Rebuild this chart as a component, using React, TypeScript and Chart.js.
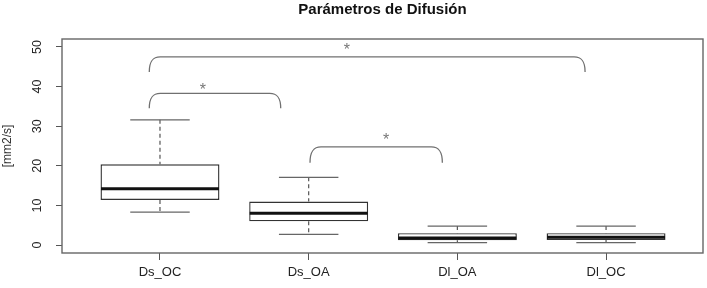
import React, { useEffect, useRef } from "react";
import { Chart, registerables } from "chart.js";

Chart.register(...registerables);

// ---- data ----
const categories = ["Ds_OC", "Ds_OA", "Dl_OA", "Dl_OC"];
const positions = [1, 2, 3, 4];
const whiskerLow = [8.3, 2.7, 0.6, 0.6];
const q1 = [11.4, 6.0, 1.2, 1.3];
const median = [14.2, 8.0, 1.8, 2.0];
const q3 = [20.4, 11.0, 3.0, 3.0];
const whiskerHigh = [31.6, 17.1, 4.8, 4.8];
const yTicks = [0, 10, 20, 30, 40, 50];

// significance brackets (x in category units, y in data units)
const bracketFrom = [0.928, 0.928, 2.009];
const bracketTo = [1.812, 3.859, 2.899];
const bracketTop = [38.3, 47.5, 24.8];
const bracketEnd = [34.5, 43.7, 20.8];
const starX = [1.289, 2.256, 2.52];
const starY = [40.0, 50.2, 27.5];
const starLabel = ["*", "*", "*"];

const FONT = "'Liberation Sans', Arial, Helvetica, sans-serif";

const extrasPlugin = {
  id: "boxExtras",
  afterDatasetsDraw(chart: any) {
    const { ctx, chartArea, scales } = chart;
    const x = scales.x;
    const y = scales.y;
    const meta = chart.getDatasetMeta(0);
    const line = (a: number, b: number, c: number, d: number) => {
      ctx.beginPath();
      ctx.moveTo(a, b);
      ctx.lineTo(c, d);
      ctx.stroke();
    };
    ctx.save();
    positions.forEach((p, i) => {
      const cx = x.getPixelForValue(p);
      const bw = meta.data[i].width;
      const capHalf = bw / 4;
      const yHi = y.getPixelForValue(whiskerHigh[i]);
      const yLo = y.getPixelForValue(whiskerLow[i]);
      const yQ1 = y.getPixelForValue(q1[i]);
      const yQ3 = y.getPixelForValue(q3[i]);
      const yMed = y.getPixelForValue(median[i]);
      ctx.strokeStyle = "#555";
      ctx.lineWidth = 1.2;
      ctx.setLineDash([4, 3]);
      line(cx, yHi, cx, yQ3);
      line(cx, yQ1, cx, yLo);
      ctx.setLineDash([]);
      ctx.strokeStyle = "#666";
      line(cx - capHalf, yHi, cx + capHalf, yHi);
      line(cx - capHalf, yLo, cx + capHalf, yLo);
      ctx.strokeStyle = "#111";
      ctx.lineWidth = 3;
      line(cx - bw / 2 + 0.5, yMed, cx + bw / 2 - 0.5, yMed);
    });

    // frame
    ctx.strokeStyle = "#666";
    ctx.lineWidth = 1.4;
    ctx.strokeRect(
      chartArea.left,
      chartArea.top,
      chartArea.right - chartArea.left,
      chartArea.bottom - chartArea.top
    );

    // brackets
    ctx.strokeStyle = "#707070";
    ctx.lineWidth = 1.3;
    bracketFrom.forEach((from, i) => {
      const x0 = x.getPixelForValue(from);
      const x1 = x.getPixelForValue(bracketTo[i]);
      const yt = y.getPixelForValue(bracketTop[i]);
      const ye = y.getPixelForValue(bracketEnd[i]);
      const r = 11;
      const h = ye - yt;
      ctx.beginPath();
      ctx.moveTo(x0, ye);
      ctx.bezierCurveTo(x0, yt + h * 0.3, x0 + r * 0.3, yt, x0 + r, yt);
      ctx.lineTo(x1 - r, yt);
      ctx.bezierCurveTo(x1 - r * 0.3, yt, x1, yt + h * 0.3, x1, ye);
      ctx.stroke();
    });

    // stars
    ctx.fillStyle = "#777";
    ctx.font = `16px ${FONT}`;
    ctx.textAlign = "center";
    ctx.textBaseline = "alphabetic";
    starX.forEach((sx, i) => {
      ctx.fillText(starLabel[i], x.getPixelForValue(sx), y.getPixelForValue(starY[i]) + 8.5);
    });
    ctx.restore();
  },
};

export default function App() {
  const ref = useRef<HTMLCanvasElement | null>(null);
  useEffect(() => {
    if (!ref.current) return;
    const chart = new Chart(ref.current, {
      type: "bar",
      data: {
        datasets: [
          {
            data: positions.map((p, i) => ({ x: p, y: [q1[i], q3[i]] })) as any,
            backgroundColor: "#ffffff",
            borderColor: "#333",
            borderWidth: 1.4,
            borderSkipped: false,
            barPercentage: 0.8,
            categoryPercentage: 1,
          },
        ],
      },
      options: {
        animation: false,
        responsive: false,
        maintainAspectRatio: false,
        layout: { padding: { left: 0, right: 4, top: 0, bottom: 0 } },
        plugins: {
          legend: { display: false },
          tooltip: { enabled: false },
          title: {
            display: true,
            text: "Parámetros de Difusión",
            font: { size: 15, weight: "bold", family: FONT },
            color: "#111",
            padding: { top: 1, bottom: 20 },
            fullSize: false,
          },
        },
        scales: {
          x: {
            type: "linear",
            min: 0.341,
            max: 4.652,
            offset: false,
            afterBuildTicks: (s: any) => {
              s.ticks = positions.map((v) => ({ value: v }));
            },
            afterFit: (s: any) => {
              s.height = 35;
            },
            ticks: {
              callback: (v: any) => categories[positions.indexOf(Number(v))],
              font: { size: 13, family: FONT },
              color: "#222",
              padding: 5,
              autoSkip: false,
              maxRotation: 0,
              minRotation: 0,
            },
            grid: {
              offset: false,
              drawOnChartArea: false,
              drawTicks: true,
              tickLength: 7,
              color: "#555",
              lineWidth: 1,
            },
            border: { display: false },
          },
          y: {
            type: "linear",
            min: -2,
            max: 52,
            afterBuildTicks: (s: any) => {
              s.ticks = yTicks.map((v) => ({ value: v }));
            },
            afterFit: (s: any) => {
              s.width = 62;
            },
            ticks: {
              minRotation: 90,
              maxRotation: 90,
              crossAlign: "center",
              padding: 12,
              font: { size: 12.5, family: FONT },
              color: "#222",
              autoSkip: false,
            },
            grid: {
              drawOnChartArea: false,
              drawTicks: true,
              tickLength: 6,
              color: "#555",
              lineWidth: 1,
            },
            border: { display: false },
            title: {
              display: true,
              text: "[mm2/s]",
              font: { size: 12, family: FONT },
              color: "#333",
              padding: { top: 0, bottom: 0 },
            },
          },
        },
      },
      plugins: [extrasPlugin],
    } as any);
    return () => chart.destroy();
  }, []);
  return (
    <div style={{ position: "fixed", left: 0, top: 0, width: 707, height: 288, background: "#fff" }}>
      <canvas ref={ref} width={707} height={288} style={{ display: "block", width: 707, height: 288 }} />
    </div>
  );
}
